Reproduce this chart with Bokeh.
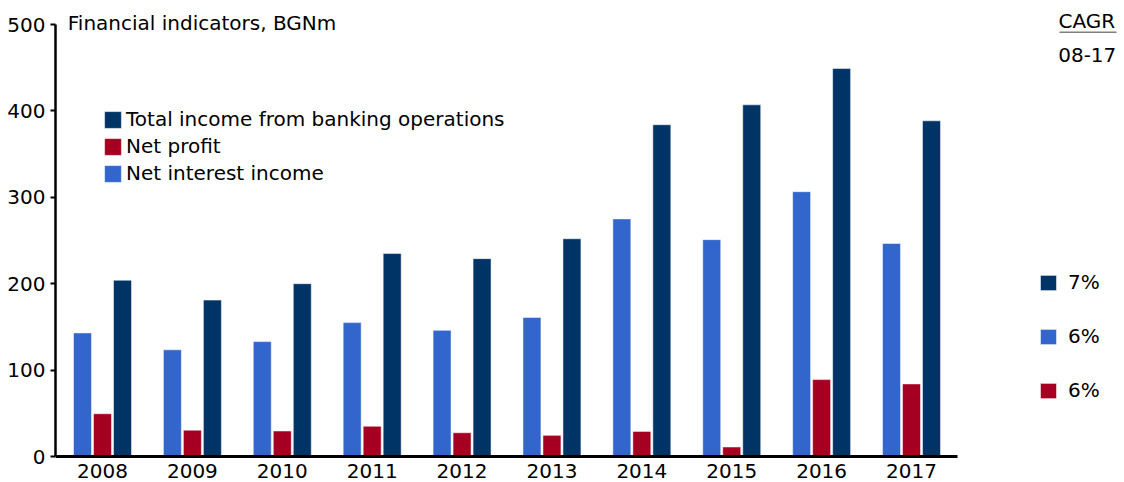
from bokeh.plotting import figure
from bokeh.models import (ColumnDataSource, Legend, LegendItem, Label, FixedTicker, Arrow)
from bokeh.transform import dodge
from bokeh.embed import file_html
from bokeh.resources import INLINE

years = ["2008", "2009", "2010", "2011", "2012", "2013", "2014", "2015", "2016", "2017"]
net_interest_income = [143, 123.5, 133, 155, 146, 161, 275, 251, 306.5, 246.5]
net_profit = [49.5, 30.5, 29.5, 35, 27.5, 24.5, 29, 11, 89, 84]
total_income = [204, 181, 200, 235, 229, 252, 384, 407, 449, 388.5]

series_names = ["Total income from banking operations", "Net profit", "Net interest income"]
cagr_title = ["CAGR", "08-17"]
cagr_labels = ["7%", "6%", "6%"]
y_ticks = [0, 100, 200, 300, 400, 500]

C_DARK = "#003366"
C_RED = "#A50021"
C_BLUE = "#3366CC"
FONT = "DejaVu Sans"
FS = "20px"

# layout geometry (screen px)
W, H = 1124, 482
FL, FT = 55, 7                  # frame left / top
CAT0, PITCH = 102.0, 89.89      # centre of first category, category pitch
ZERO, PXU = 456.0, 0.864        # y pixel of value 0, px per unit
TXT_SHIFT = 7.5                 # label baseline correction

def dx(sx):
    return (sx - CAT0) / PITCH

def dy(sy):
    return (ZERO - sy) / PXU

x_start, x_end = dx(FL), dx(W)
y_start, y_end = dy(H), dy(FT)

idx = list(range(len(years)))
src = ColumnDataSource(dict(x=idx, nii=net_interest_income, np=net_profit, ti=total_income))

p = figure(width=W, height=H, output_backend="svg", toolbar_location=None,
           x_range=(x_start, x_end), y_range=(y_start, y_end),
           min_border_left=FL, min_border_right=0, min_border_top=FT, min_border_bottom=0)
p.outline_line_color = None
p.xgrid.visible = False
p.ygrid.visible = False
p.background_fill_color = "white"

bw = 0.2
r_blue = p.vbar(x=dodge("x", -0.2225, range=p.x_range), top="nii", width=bw, source=src,
                fill_color=C_BLUE, line_color="white", line_alpha=0.5, line_width=1)
r_red = p.vbar(x=dodge("x", 0.0, range=p.x_range), top="np", width=bw, source=src,
               fill_color=C_RED, line_color="white", line_alpha=0.5, line_width=1)
r_dark = p.vbar(x=dodge("x", 0.2225, range=p.x_range), top="ti", width=bw, source=src,
                fill_color=C_DARK, line_color="white", line_alpha=0.5, line_width=1)

# axes
p.xaxis.fixed_location = 0
p.xaxis.bounds = (x_start, dx(957))
p.xaxis.ticker = FixedTicker(ticks=idx)
p.xaxis.major_label_overrides = {i: y for i, y in enumerate(years)}
p.xaxis.major_tick_out = 0
p.xaxis.major_tick_in = 0
p.xaxis.minor_tick_line_color = None
p.xaxis.axis_line_width = 3
p.xaxis.axis_line_color = "black"
p.xaxis.major_label_standoff = 7
p.yaxis.bounds = (0, 500)
p.yaxis.ticker = FixedTicker(ticks=y_ticks)
p.yaxis.major_tick_out = 5
p.yaxis.major_tick_in = 0
p.yaxis.major_tick_line_width = 2
p.yaxis.minor_tick_line_color = None
p.yaxis.axis_line_width = 2.5
p.yaxis.axis_line_color = "black"
p.yaxis.major_label_standoff = 5
for ax in (p.xaxis, p.yaxis):
    ax.major_label_text_font = FONT
    ax.major_label_text_font_size = FS
    ax.major_label_text_color = "black"

# main legend
leg = Legend(items=[LegendItem(label=series_names[0], renderers=[r_dark]),
                    LegendItem(label=series_names[1], renderers=[r_red]),
                    LegendItem(label=series_names[2], renderers=[r_blue])],
             location=(102 - FL, H - 185), glyph_width=21, glyph_height=21, label_height=24,
             spacing=3, label_standoff=3, padding=0, margin=0,
             border_line_color=None, background_fill_alpha=0,
             label_text_font=FONT, label_text_font_size=FS, label_text_color="black")
p.add_layout(leg, "center")

# CAGR legend
leg2 = Legend(items=[LegendItem(label=cagr_labels[0], renderers=[r_dark]),
                     LegendItem(label=cagr_labels[1], renderers=[r_blue]),
                     LegendItem(label=cagr_labels[2], renderers=[r_red])],
              location=(1038 - FL, H - 402), glyph_width=20, glyph_height=19, label_height=24,
              spacing=30, label_standoff=10, padding=0, margin=0,
              border_line_color=None, background_fill_alpha=0,
              label_text_font=FONT, label_text_font_size=FS, label_text_color="black")
p.add_layout(leg2, "center")

# texts
p.add_layout(Label(x=dx(67.3), y=dy(30 - TXT_SHIFT), text="Financial indicators, BGNm", text_font=FONT,
                   text_font_size=FS, text_baseline="alphabetic", text_align="left", text_color="black"))
p.add_layout(Label(x=dx(1058), y=dy(27.5 - TXT_SHIFT), text=cagr_title[0], text_font=FONT,
                   text_font_size=FS, text_baseline="alphabetic", text_align="left", text_color="black"))
p.add_layout(Label(x=dx(1057.7), y=dy(61.7 - TXT_SHIFT), text=cagr_title[1], text_font=FONT,
                   text_font_size=FS, text_baseline="alphabetic", text_align="left", text_color="black"))
p.add_layout(Arrow(x_start=dx(1059), y_start=dy(31.7), x_end=dx(1116), y_end=dy(31.7),
                   start=None, end=None, line_color="#7f7f7f", line_width=1.5))

open("out.html", "w").write(file_html(p, INLINE))
